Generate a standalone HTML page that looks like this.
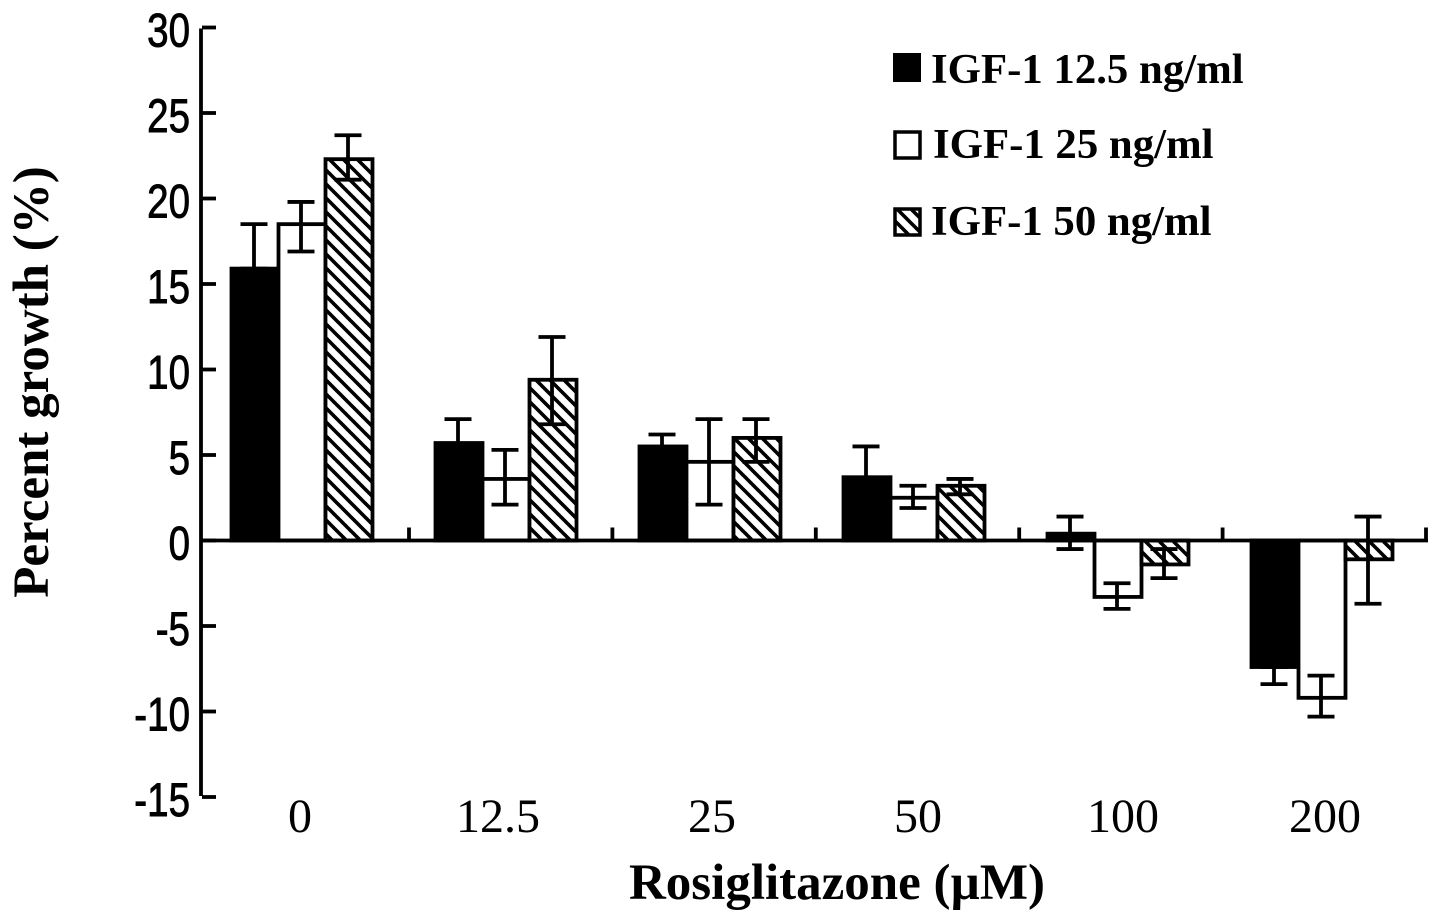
<!DOCTYPE html>
<html lang="en">
<head>
<meta charset="utf-8">
<title>Percent growth by Rosiglitazone dose</title>
<style>
html,body{margin:0;padding:0;background:#fff;}
svg{display:block;}
text{fill:#000;}
.ytick{font-family:"Liberation Sans",sans-serif;font-size:47px;stroke:#000;stroke-width:0.9px;}
.xtick{font-family:"Liberation Serif",serif;font-size:48px;}
.title{font-family:"Liberation Serif",serif;font-weight:bold;font-size:51px;}
.legend{font-family:"Liberation Serif",serif;font-weight:bold;font-size:42.8px;}
</style>
</head>
<body>
<svg id="chart" xmlns="http://www.w3.org/2000/svg" width="1441" height="917" viewBox="0 0 1441 917">
<defs>
<pattern id="hatch" patternUnits="userSpaceOnUse" width="14" height="14" patternTransform="translate(2 0)">
<rect width="14" height="14" fill="#fff"/>
<path d="M-3 -3L17 17M-3 11L3 17M11 -3L17 3" stroke="#000" stroke-width="3.6"/>
</pattern>
</defs>
<g id="plot"></g>
<text class="title" transform="translate(48 382) rotate(-90)" text-anchor="middle">Percent growth (%)</text>
<text class="title" x="837" y="899" text-anchor="middle">Rosiglitazone (µM)</text>
<g>
<g>
<rect x="894" y="54" width="26" height="27" fill="#000" stroke="#000" stroke-width="2"/>
<text class="legend" x="931" y="83">IGF-1 12.5 ng/ml</text>
</g>
<g>
<rect x="895" y="132" width="25" height="26" fill="#fff" stroke="#000" stroke-width="3.5"/>
<text class="legend" x="933" y="158">IGF-1 25 ng/ml</text>
</g>
<g>
<rect x="895" y="209" width="25" height="26" fill="url(#hatch)" stroke="#000" stroke-width="3.5"/>
<text class="legend" x="931" y="235">IGF-1 50 ng/ml</text>
</g>
</g>
</svg>
<script>
const categories = ["0", "12.5", "25", "50", "100", "200"];
const yTicks = [30, 25, 20, 15, 10, 5, 0, -5, -10, -15];
const seriesIds = ["igf-12-5", "igf-25", "igf-50"];
const valuesLow = [15.9, 5.7, 5.5, 3.7, 0.4, -7.4];
const valuesMid = [18.5, 3.6, 4.6, 2.5, -3.3, -9.2];
const valuesHigh = [22.3, 9.4, 6.0, 3.2, -1.4, -1.1];
const errTopLow = [18.5, 7.1, 6.2, 5.5, 1.4, -7.4];
const errBottomLow = [15.9, 4.3, 4.8, 1.9, -0.5, -8.4];
const errTopMid = [19.8, 5.3, 7.1, 3.2, -2.5, -7.9];
const errBottomMid = [16.9, 2.1, 2.1, 1.9, -4.0, -10.3];
const errTopHigh = [23.7, 11.9, 7.1, 3.6, -0.5, 1.4];
const errBottomHigh = [21.1, 6.8, 4.6, 2.7, -2.2, -3.7];

const NS = "http://www.w3.org/2000/svg";
const plot = document.getElementById("plot");
const AXIS_X = 201, AXIS_END = 1426, Y_TOP = 27.5, Y_BOTTOM = 797;
const yMin = yTicks[yTicks.length - 1], yMax = yTicks[0];
const BAR_W = 47;
function yScale(v) { return Y_TOP + (yMax - v) * (Y_BOTTOM - Y_TOP) / (yMax - yMin); }
function xTick(i) { return AXIS_END - (categories.length - 1 - i) * 203.4; }
function xScale(i, s) { return 231.5 + i * 204 + s * BAR_W; }
function xLabel(i) { return 300 + i * 205 - (i === 1 ? 7 : 0) + (i === 2 ? 2 : 0) + (i === 3 ? 3 : 0) + (i === 4 ? 3 : 0); }
function add(tag, attrs, parent) {
  const el = document.createElementNS(NS, tag);
  for (const k in attrs) el.setAttribute(k, attrs[k]);
  (parent || plot).appendChild(el);
  return el;
}
function seg(x1, y1, x2, y2, w) {
  return add("line", { x1: x1, y1: y1, x2: x2, y2: y2, stroke: "#000", "stroke-width": w || 3.8 });
}

const seriesValues = [valuesLow, valuesMid, valuesHigh];
const seriesTops = [errTopLow, errTopMid, errTopHigh];
const seriesBottoms = [errBottomLow, errBottomMid, errBottomHigh];
const fills = ["#000", "#fff", "url(#hatch)"];

// bars
seriesValues.forEach(function (vals, s) {
  vals.forEach(function (v, i) {
    const y0 = yScale(0), yv = yScale(v);
    const bar = add("rect", {
      x: xScale(i, s), y: Math.min(y0, yv), width: BAR_W, height: Math.abs(yv - y0),
      fill: fills[s], stroke: "#000", "stroke-width": 3.8
    });
    
    
  });
});

// error bars
seriesValues.forEach(function (vals, s) {
  vals.forEach(function (v, i) {
    const cx = xScale(i, s) + BAR_W / 2 - 1;
    const yt = yScale(seriesTops[s][i]), yb = yScale(seriesBottoms[s][i]);
    const stem = seg(cx, yt, cx, yb);
    
    
    const capTop = seg(cx - 13.5, yt, cx + 13.5, yt);
    
    
    const capBottom = seg(cx - 13.5, yb, cx + 13.5, yb);
    
    
  });
});

// y axis
const yAxisLine = seg(AXIS_X, Y_TOP + 1, AXIS_X, Y_BOTTOM - 1);


yTicks.forEach(function (t) {
  const y = yScale(t);
  const tick = seg(AXIS_X + 1, y, AXIS_X + 15, y);
  
  
  const label = add("text", {
    "class": "ytick", "text-anchor": "end",
    transform: "translate(190 " + (y + 19) + ") scale(0.82 1)"
  });
  label.textContent = t;
  
  
});

// x axis
const xAxisLine = seg(AXIS_X, yScale(0), AXIS_END + 2, yScale(0));


categories.forEach(function (c, i) {
  const tx = xTick(i);
  const tick = seg(tx, yScale(0), tx, yScale(0) - 13);
  
  
  const label = add("text", { "class": "xtick", "text-anchor": "middle", x: xLabel(i), y: 832 });
  label.textContent = c;
  
  
});
</script>
</body>
</html>
